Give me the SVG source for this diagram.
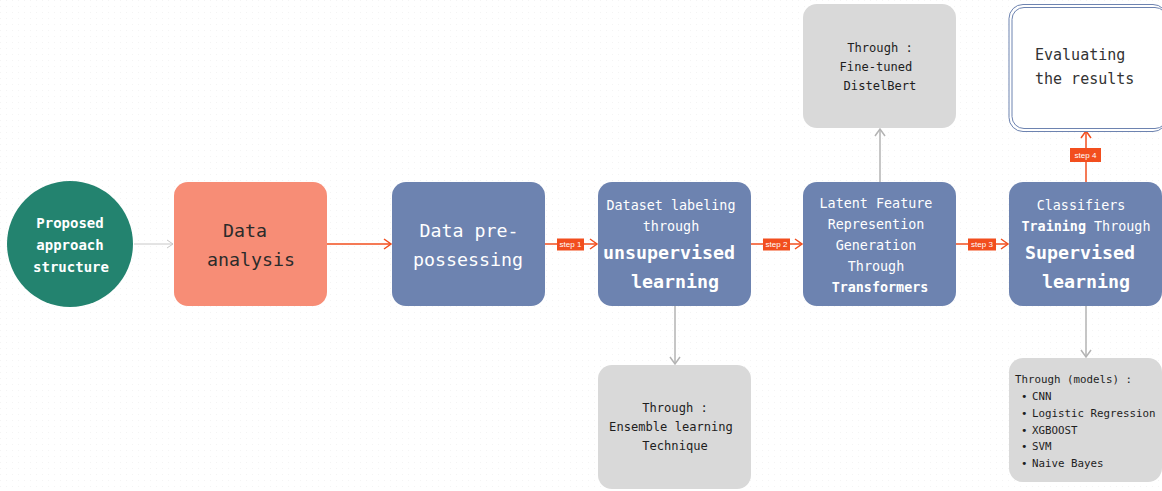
<svg xmlns="http://www.w3.org/2000/svg" width="1162" height="491" viewBox="0 0 1162 491">
<defs>
<style>
.mono{font-family:"DejaVu Sans Mono","Liberation Mono",monospace;}
.w{fill:#ffffff;}
.d{fill:#2b2b2b;}
.blue{fill:#6D83B0;}
.gray{fill:#D9D9D9;}
.gt{fill:#1e1e1e;}
.lbl{font-family:"Liberation Sans",Arial,sans-serif;font-size:8px;fill:#ffffff;}
.red{stroke:#F24E1E;stroke-width:1.5;fill:none;}
.gl{stroke:#B3B3B3;stroke-width:1.5;fill:none;}
</style>
<marker id="ar" markerWidth="10" markerHeight="12" refX="8" refY="6" orient="auto" markerUnits="userSpaceOnUse">
<path d="M1,1 L8,6 L1,11" fill="none" stroke="#F24E1E" stroke-width="1.5"/>
</marker>
<marker id="ag" markerWidth="10" markerHeight="12" refX="8" refY="6" orient="auto" markerUnits="userSpaceOnUse">
<path d="M1,1 L8,6 L1,11" fill="none" stroke="#B3B3B3" stroke-width="1.5"/>
</marker>
<marker id="agt" markerWidth="10" markerHeight="12" refX="8" refY="6" orient="auto" markerUnits="userSpaceOnUse">
<path d="M2,2 L8,6 L2,10" fill="none" stroke="#C8C8C8" stroke-width="1"/>
</marker>
<pattern id="dots" width="6" height="6" patternUnits="userSpaceOnUse">
<rect x="0" y="0" width="1" height="1" fill="#F4F4F4"/>
</pattern>
</defs>
<rect width="1162" height="491" fill="#FFFFFF"/>
<rect width="1162" height="491" fill="url(#dots)"/>

<g id="connectors">
<line x1="134" y1="244" x2="173" y2="244" stroke="#C8C8C8" stroke-width="1" marker-end="url(#agt)"/>
<line class="red" x1="327" y1="244" x2="391" y2="244" marker-end="url(#ar)"/>
<line class="red" x1="545" y1="244" x2="597" y2="244" marker-end="url(#ar)"/>
<line class="red" x1="751" y1="244" x2="802" y2="244" marker-end="url(#ar)"/>
<line class="red" x1="956" y1="244" x2="1008" y2="244" marker-end="url(#ar)"/>
<line class="red" x1="1086" y1="182" x2="1086" y2="131" marker-end="url(#ar)"/>
<line class="gl" x1="880" y1="182" x2="880" y2="129" marker-end="url(#ag)"/>
<line class="gl" x1="675" y1="306" x2="675" y2="364" marker-end="url(#ag)"/>
<line class="gl" x1="1086" y1="306" x2="1086" y2="357" marker-end="url(#ag)"/>
<g id="step1"><rect x="557" y="238.5" width="27" height="12" fill="#F24E1E"/><text class="lbl" x="570.5" y="247.3" text-anchor="middle">step 1</text></g>
<g id="step2"><rect x="763" y="238.5" width="27" height="12" fill="#F24E1E"/><text class="lbl" x="776.5" y="247.3" text-anchor="middle">step 2</text></g>
<g id="step3"><rect x="968" y="238.5" width="28" height="12" fill="#F24E1E"/><text class="lbl" x="982" y="247.3" text-anchor="middle">step 3</text></g>
<g id="step4"><rect x="1070" y="148" width="31" height="14" fill="#F24E1E"/><text class="lbl" x="1085.5" y="158" text-anchor="middle">step 4</text></g>
</g>

<g id="start">
<circle cx="70" cy="244" r="63" fill="#23836F"/>
<text class="mono w" font-size="14" font-weight="bold" text-anchor="middle"><tspan x="70" y="228">Proposed</tspan><tspan x="70" y="250">approach</tspan><tspan x="71" y="272">structure</tspan></text>
</g>

<g id="data-analysis">
<rect x="174" y="182" width="153" height="124" rx="14" fill="#F78D76"/>
<text class="mono d" font-size="18.3" text-anchor="middle"><tspan x="245" y="237">Data</tspan><tspan x="251" y="266">analysis</tspan></text>
</g>

<g id="preprocessing">
<rect class="blue" x="392" y="182" width="153" height="124" rx="14"/>
<text class="mono w" font-size="18.3" text-anchor="middle"><tspan x="469" y="237">Data pre-</tspan><tspan x="468" y="266">possessing</tspan></text>
</g>

<g id="labeling">
<rect class="blue" x="598" y="182" width="153" height="124" rx="14"/>
<text class="mono w" font-size="13.4" text-anchor="middle"><tspan x="671" y="210">Dataset labeling</tspan><tspan x="671" y="231">through</tspan></text>
<text class="mono w" font-size="18.3" font-weight="bold" text-anchor="middle"><tspan x="669" y="259">unsupervised</tspan><tspan x="675" y="288">learning</tspan></text>
</g>

<g id="latent">
<rect class="blue" x="803" y="182" width="153" height="124" rx="14"/>
<text class="mono w" font-size="13.4" text-anchor="middle"><tspan x="876" y="208">Latent Feature</tspan><tspan x="876" y="229">Represention</tspan><tspan x="876" y="250">Generation</tspan><tspan x="876" y="271">Through</tspan><tspan x="880" y="292" font-weight="bold">Transformers</tspan></text>
</g>

<g id="classifiers">
<rect class="blue" x="1009" y="182" width="153" height="124" rx="14"/>
<text class="mono w" font-size="13.4" text-anchor="middle"><tspan x="1081" y="210">Classifiers</tspan><tspan x="1086" y="231"><tspan font-weight="bold">Training</tspan> Through</tspan></text>
<text class="mono w" font-size="18.3" font-weight="bold" text-anchor="middle"><tspan x="1080" y="259">Supervised</tspan><tspan x="1086" y="288">learning</tspan></text>
</g>

<g id="distilbert">
<rect class="gray" x="803" y="4" width="153" height="124" rx="14"/>
<text class="mono gt" font-size="12.1" text-anchor="middle"><tspan x="880" y="52">Through :</tspan><tspan x="876" y="71">Fine-tuned</tspan><tspan x="880" y="90">DistelBert</tspan></text>
</g>

<g id="evaluating">
<rect x="1009" y="4.5" width="158" height="127" rx="14" fill="#FFFFFF" stroke="#6D83B0" stroke-width="1"/>
<rect x="1012" y="7.5" width="155" height="121" rx="12" fill="none" stroke="#6D83B0" stroke-width="1"/>
<text class="mono" font-size="15" fill="#333"><tspan x="1035" y="60">Evaluating</tspan><tspan x="1035" y="84">the results</tspan></text>
</g>

<g id="ensemble">
<rect class="gray" x="598" y="365" width="153" height="124" rx="14"/>
<text class="mono gt" font-size="12.1" text-anchor="middle"><tspan x="675" y="412">Through :</tspan><tspan x="671" y="431">Ensemble learning</tspan><tspan x="675" y="450">Technique</tspan></text>
</g>

<g id="models">
<rect class="gray" x="1009" y="358" width="153" height="124" rx="14"/>
<text class="mono gt" font-size="10.8"><tspan x="1015" y="383">Through (models) :</tspan></text>
<text class="mono gt" font-size="10.8"><tspan x="1021" y="400">•</tspan><tspan x="1032" y="400">CNN</tspan><tspan x="1021" y="417">•</tspan><tspan x="1032" y="417">Logistic Regression</tspan><tspan x="1021" y="434">•</tspan><tspan x="1032" y="434">XGBOOST</tspan><tspan x="1021" y="450">•</tspan><tspan x="1032" y="450">SVM</tspan><tspan x="1021" y="467">•</tspan><tspan x="1032" y="467">Naive Bayes</tspan></text>
</g>
</svg>
